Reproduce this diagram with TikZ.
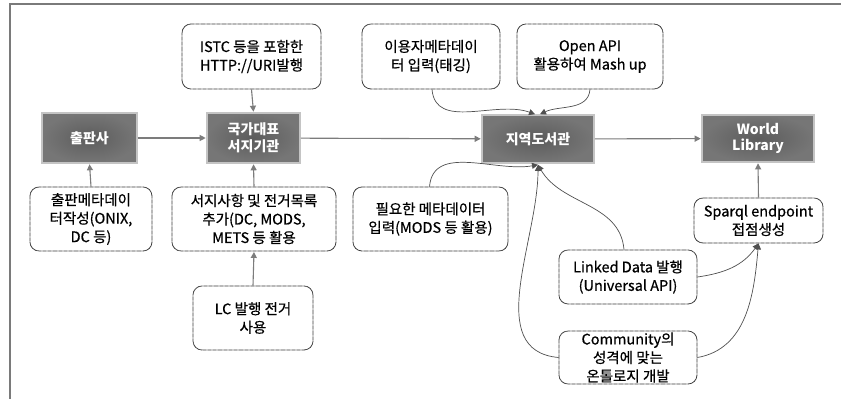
\documentclass[tikz,border=0pt]{standalone}
\usepackage{fontspec}
\setmainfont{Noto Sans CJK KR}
\newfontfamily\taskfont[FakeBold=0.6]{Noto Sans CJK KR}
\usetikzlibrary{arrows.meta,shadings}
\definecolor{framegray}{HTML}{7A7A7A}
\definecolor{linegray}{HTML}{7C7C7C}
\definecolor{curvegray}{HTML}{505050}
\definecolor{boxedge}{HTML}{3A3A3A}
\definecolor{darkin}{HTML}{5C5C5C}
\definecolor{darkout}{HTML}{767676}
\definecolor{glow}{HTML}{C4C4C4}
\tikzset{
  x=1pt, y=-1pt,
  agency/.style={inner color=darkin, outer color=darkout, draw=glow, line width=1.6pt,
    text=white, font=\fontsize{14}{16.5}\selectfont\bfseries, align=center,
    inner sep=0pt},
  task/.style={draw=boxedge, dash pattern=on 0.7pt off 0.35pt, line width=0.85pt, rounded corners=9pt,
    fill=white, align=center, inner sep=0pt, text=black,
    font=\taskfont\fontsize{14.5}{18.5}\selectfont},
  flow/.style={draw=linegray, line width=1.1pt, -{Triangle[length=6pt,width=6pt]}, shorten >=0.5pt},
  feed/.style={draw=curvegray, line width=0.7pt, -{Triangle[length=6pt,width=6pt]}},
}
\begin{document}
\begin{tikzpicture}
\useasboundingbox (0,0) rectangle (841,399);
\fill[white] (0,0) rectangle (841,399);
% outer frame (top and left edges)
\draw[framegray, line width=2pt] (10,399) -- (10,4) -- (841,4);

% main chain of institutions
\node[agency, minimum width=95pt, minimum height=50pt] (pub) at (89.5,138) {출판사};
\node[agency, minimum width=93pt, minimum height=50pt] (nat) at (253.5,138) {국가대표\\서지기관};
\node[agency, minimum width=112pt, minimum height=48pt] (loc) at (538,139) {지역도서관};
\node[agency, minimum width=112pt, minimum height=47pt] (world) at (758,138.5) {World\\Library};

% activities
\node[task, minimum width=139pt, minimum height=65pt] (istc) at (251.5,56.5) {ISTC 등을 포함한\\HTTP://URI발행};
\node[task, minimum width=138pt, minimum height=65pt] (user) at (431,56.5) {이용자메타데이\\터 입력(태깅)};
\node[task, minimum width=146pt, minimum height=65pt] (open) at (590,56.5) {Open API\\활용하여 Mash up};
\node[task, minimum width=122pt, minimum height=64pt] (pubmeta) at (91,219) {출판메타데이\\터작성(ONIX,\\DC 등)};
\node[task, minimum width=164pt, minimum height=64pt] (bib) at (254,219) {서지사항 및 전거목록\\추가(DC, MODS,\\METS 등 활용};
\node[task, minimum width=155pt, minimum height=64pt] (need) at (430.5,219) {필요한 메타데이터\\입력(MODS 등 활용)};
\node[task, minimum width=120pt, minimum height=64pt] (lc) at (253,318) {LC 발행 전거\\사용};
\node[task, minimum width=129pt, minimum height=45pt] (sparql) at (758.5,220.5) {Sparql endpoint\\접점생성};
\node[task, minimum width=138pt, minimum height=54pt] (linked) at (628,277) {Linked Data 발행\\(Universal API)};
\node[task, minimum width=138pt, minimum height=53pt] (comm) at (628,357.5) {Community의\\성격에 맞는\\온톨로지 개발};

% horizontal chain
\draw[flow] (pub) -- (nat);
\draw[flow] (nat) -- (loc);
\draw[flow] (loc) -- (world);

% vertical feeds
\draw[flow] (istc.south) -- (nat.north);
\draw[flow] (pubmeta.north) -- (pub.south);
\draw[flow] (bib.north) -- (nat.south);
\draw[flow] (lc.north) -- (bib.south);
\draw[flow] (sparql.north) -- (world.south);

% curved feeds into the local library
\coordinate (loctopA) at ([xshift=-3pt]loc.north);
\coordinate (loctopB) at ([xshift=2pt]loc.north);
\draw[feed] ([xshift=1pt]user.south) to[out=-85, in=160] (loctopA);
\draw[feed] (open.south) to[out=-95, in=25] (loctopB);
\coordinate (locbot) at ([yshift=-1pt]loc.south);
\draw[feed] ([xshift=-1pt]need.north) to[out=85, in=-170] (locbot);
\draw[feed] ([xshift=-4pt]linked.north) to[out=95, in=-60] (locbot);
\draw[feed] (comm.west) to[out=175, in=-90] (locbot);

% curved feeds into the sparql endpoint
\coordinate (spbot) at (sparql.south);
\draw[feed] (linked.east) to[out=8, in=-125] (spbot);
\draw[feed] (comm.east) to[out=10, in=-95] (spbot);
\end{tikzpicture}
\end{document}
